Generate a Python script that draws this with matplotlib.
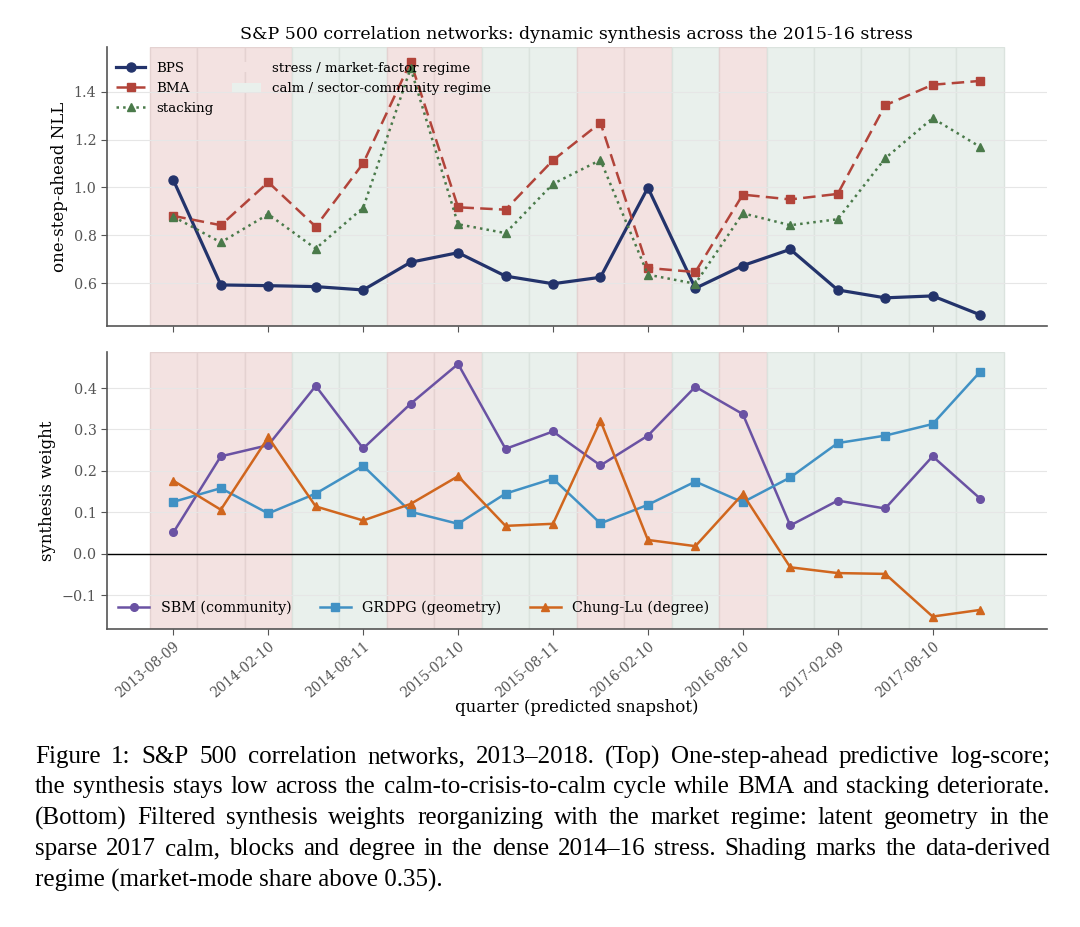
import numpy as np
import matplotlib
matplotlib.use('Agg')
import matplotlib.pyplot as plt
from matplotlib.patches import Patch

# quarterly snapshots (predicted)
quarters = ['2013-08-09', '2013-11-08', '2014-02-10', '2014-05-12', '2014-08-11',
            '2014-11-10', '2015-02-10', '2015-05-11', '2015-08-11', '2015-11-09',
            '2016-02-10', '2016-05-10', '2016-08-10', '2016-11-08', '2017-02-09',
            '2017-05-10', '2017-08-10', '2017-11-09']
regime = ['stress', 'stress', 'stress', 'calm', 'calm', 'stress', 'stress',
          'calm', 'calm', 'stress', 'stress', 'calm', 'stress',
          'calm', 'calm', 'calm', 'calm', 'calm']

# one-step-ahead NLL
bps = [1.031, 0.592, 0.589, 0.585, 0.571, 0.687, 0.727, 0.629, 0.597, 0.624,
       0.999, 0.578, 0.673, 0.741, 0.571, 0.538, 0.546, 0.467]
bma = [0.881, 0.842, 1.022, 0.836, 1.101, 1.526, 0.917, 0.907, 1.114, 1.271,
       0.663, 0.646, 0.970, 0.950, 0.973, 1.344, 1.430, 1.446]
stacking = [0.878, 0.770, 0.888, 0.744, 0.915, 1.499, 0.846, 0.809, 1.015, 1.115,
            0.635, 0.597, 0.892, 0.842, 0.867, 1.122, 1.290, 1.170]

# synthesis weights
sbm = [0.051, 0.235, 0.262, 0.405, 0.254, 0.362, 0.458, 0.253, 0.295, 0.213,
       0.285, 0.403, 0.337, 0.068, 0.128, 0.109, 0.235, 0.133]
grdpg = [0.125, 0.158, 0.097, 0.145, 0.212, 0.101, 0.072, 0.145, 0.181, 0.073,
         0.118, 0.174, 0.124, 0.184, 0.267, 0.285, 0.313, 0.439]
chunglu = [0.176, 0.106, 0.281, 0.114, 0.080, 0.120, 0.187, 0.067, 0.072, 0.321,
           0.033, 0.018, 0.144, -0.033, -0.047, -0.049, -0.152, -0.136]

caption_lines = [
    'Figure 1: S&P 500 correlation networks, 2013\u20132018. (Top) One-step-ahead predictive log-score;',
    'the synthesis stays low across the calm-to-crisis-to-calm cycle while BMA and stacking deteriorate.',
    '(Bottom) Filtered synthesis weights reorganizing with the market regime: latent geometry in the',
    'sparse 2017 calm, blocks and degree in the dense 2014\u201316 stress. Shading marks the data-derived',
    'regime (market-mode share above 0.35).',
]

shade = {'stress': '#f3e2e1', 'calm': '#e9f0ec'}
edge = {'stress': '#e4d2d1', 'calm': '#dbe3de'}

plt.rcParams['font.family'] = 'DejaVu Serif'
plt.rcParams['axes.edgecolor'] = '#555555'
plt.rcParams['xtick.color'] = '#555555'
plt.rcParams['ytick.color'] = '#555555'

x = np.arange(len(quarters))

fig = plt.figure(figsize=(10.8, 9.27), dpi=100)
ax1 = fig.add_axes([0.099, 0.6483, 0.870, 0.301])
ax2 = fig.add_axes([0.099, 0.3215, 0.870, 0.2988], sharex=ax1)


def shade_regimes(ax):
    for i, r in enumerate(regime):
        ax.axvspan(i - 0.5, i + 0.5, facecolor=shade[r], edgecolor=edge[r],
                   linewidth=1.0, zorder=0)


def style_axis(ax):
    for s in ['top', 'right']:
        ax.spines[s].set_visible(False)
    ax.spines['left'].set_linewidth(1.2)
    ax.spines['bottom'].set_linewidth(1.2)
    ax.yaxis.grid(True, color='#e6e6e6', linewidth=0.8, zorder=0.5)
    ax.set_axisbelow(True)
    ax.tick_params(axis='both', labelsize=10.3, direction='out', length=4)


# top panel: predictive NLL
shade_regimes(ax1)
ax1.plot(x, bps, color='#23336b', lw=2.3, marker='o', ms=6.5, label='BPS', zorder=3)
ax1.plot(x, bma, color='#b2443a', lw=1.8, ls=(0, (5, 2.5)), marker='s', ms=5.5,
         label='BMA', zorder=3)
ax1.plot(x, stacking, color='#4a7a4a', lw=1.8, ls=':', marker='^', ms=6,
         label='stacking', zorder=3)
style_axis(ax1)
ax1.set_ylim(0.42, 1.588)
ax1.set_yticks([0.6, 0.8, 1.0, 1.2, 1.4])
ax1.set_ylabel('one-step-ahead NLL', fontsize=12)
ax1.set_title('S&P 500 correlation networks: dynamic synthesis across the 2015-16 stress',
              fontsize=12.5, pad=6)
plt.setp(ax1.get_xticklabels(), visible=False)

handles, labels = ax1.get_legend_handles_labels()
handles += [Patch(facecolor=shade['stress'], edgecolor='none'),
            Patch(facecolor=shade['calm'], edgecolor='none')]
labels += ['stress / market-factor regime', 'calm / sector-community regime']
ax1.legend(handles, labels, loc='upper left', bbox_to_anchor=(-0.006, 1.0), ncol=2,
           frameon=False, fontsize=9.6, borderaxespad=0.7, handlelength=2.2,
           columnspacing=1.4, labelspacing=0.54)

# bottom panel: synthesis weights
shade_regimes(ax2)
ax2.axhline(0, color='black', lw=1.0, zorder=2)
ax2.plot(x, sbm, color='#6a52a3', lw=1.8, marker='o', ms=5.5, label='SBM (community)', zorder=3)
ax2.plot(x, grdpg, color='#4191c4', lw=1.8, marker='s', ms=5.5, label='GRDPG (geometry)', zorder=3)
ax2.plot(x, chunglu, color='#d0661e', lw=1.8, marker='^', ms=6, label='Chung-Lu (degree)', zorder=3)
style_axis(ax2)
ax2.set_ylim(-0.182, 0.487)
ax2.set_yticks([-0.1, 0.0, 0.1, 0.2, 0.3, 0.4])
ax2.set_ylabel('synthesis weight', fontsize=12)
ax2.set_xlabel('quarter (predicted snapshot)', fontsize=12, labelpad=-1)
ax2.legend(loc='lower left', bbox_to_anchor=(-0.003, 0.0), ncol=3, frameon=False,
           fontsize=10.3, borderaxespad=0.6, handlelength=2.15, columnspacing=2.0)

ax2.set_xlim(-1.4, 18.4)
ax2.set_xticks(x[::2])
ax2.set_xticklabels(quarters[::2], rotation=40, ha='right', rotation_mode='anchor',
                    fontsize=9.8)

# caption, justified like the paper
renderer = fig.canvas.get_renderer()
cap_left, cap_right = 35 / 1080, 1050 / 1080
cap_y = [757, 787, 818, 849, 880]
cap_kw = dict(fontsize=18, family='Liberation Serif', va='center', ha='left')


def word_width(w):
    t = fig.text(0, 0, w, **cap_kw)
    wd = t.get_window_extent(renderer).width
    t.remove()
    return wd / fig.bbox.width


for k, line in enumerate(caption_lines):
    yy = 1 - cap_y[k] / 927
    if k == len(caption_lines) - 1:
        fig.text(cap_left, yy, line, **cap_kw)
        continue
    words = line.split(' ')
    widths = [word_width(w) for w in words]
    gap = (cap_right - cap_left - sum(widths)) / (len(words) - 1)
    xx = cap_left
    for w, wd in zip(words, widths):
        fig.text(xx, yy, w, **cap_kw)
        xx += wd + gap

fig.savefig('out.png', dpi=100)
